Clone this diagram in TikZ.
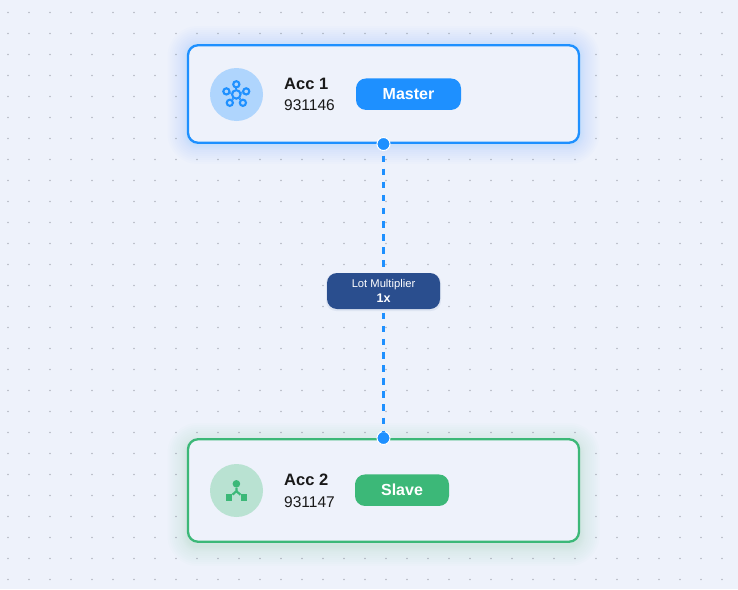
\documentclass[tikz,border=0pt]{standalone}
\usepackage{fontspec}
\setmainfont{Liberation Sans}
\usetikzlibrary{positioning}
\definecolor{pagebg}{HTML}{EEF2FB}
\definecolor{griddot}{HTML}{B4B8C2}
\definecolor{masterblue}{HTML}{1E90FF}
\definecolor{slavegreen}{HTML}{3CB878}
\definecolor{masterdisc}{HTML}{AFD5FD}
\definecolor{slavedisc}{HTML}{B9E2D2}
\definecolor{lotblue}{HTML}{2A4E8E}
\tikzset{
	card/.style={draw=#1, line width=2.3pt, fill=pagebg, rounded corners=10pt, minimum width=391pt, inner sep=0pt},
	disc/.style={circle, fill=#1, minimum size=53pt, inner sep=0pt},
	pill/.style={fill=#1, rounded corners=10pt, text=white, font=\fontsize{16}{16}\selectfont\bfseries, minimum height=31.5pt, inner sep=0pt},
	acctitle/.style={font=\fontsize{16.5}{16}\selectfont\bfseries, inner sep=0pt, anchor=west, text=black!90},
	accnum/.style={font=\fontsize{15.5}{16}\selectfont, inner sep=0pt, anchor=west, text=black!90},
	anchordot/.style={circle, fill=masterblue, draw=white, line width=1pt, minimum size=13pt, inner sep=0pt},
	linkline/.style={masterblue, line width=2.8pt, dash pattern=on 6.5pt off 6.6pt, dash phase=8.6pt},
	lotbox/.style={fill=lotblue, rounded corners=10pt, minimum width=113pt, minimum height=36pt, inner sep=0pt, text=white, align=center},
	hubring/.style={draw=masterblue, line width=2.1pt, fill=masterdisc, circle, inner sep=0pt, minimum size=6.2pt},
	splitend/.style={fill=slavegreen, minimum size=6.6pt, inner sep=0pt},
}
\begin{document}
\begin{tikzpicture}[x=1pt,y=-1pt]
	\useasboundingbox (0,0) rectangle (738,589);
	\fill[pagebg] (0,0) rectangle (738,589);
	\foreach \i in {0,...,34} {
		\foreach \j in {0,...,27} {
			\fill[griddot] (8+21*\i,12.5+21*\j) circle (0.8);
		}
	}
	% soft glow round the cards
	\foreach \g in {20,18,16,14,12,10,8,6,5,4,3,2,1} {
		\fill[masterblue, opacity=0.011, rounded corners=\g pt+10pt] (187.5-\g,45-\g+1) rectangle (579.5+\g,143+\g+1);
		\fill[slavegreen, opacity=0.011, rounded corners=\g pt+10pt] (187.5-\g,439-\g+4) rectangle (579.5+\g,542+\g+4);
	}
	\node[card=masterblue, minimum height=97.5pt] (masterCard) at (383.5,94) {};
	\node[card=slavegreen, minimum height=102.5pt] (slaveCard) at (383.5,490.5) {};
	\node[disc=masterdisc] (masterDisc) at (236.5,94.5) {};
	\node[disc=slavedisc] (slaveDisc) at (236.5,490.5) {};
	% hub icon
	\node[hubring] (hubA) at (236.3,84.3) {};
	\node[hubring] (hubB) at (246.2,91.4) {};
	\node[hubring] (hubC) at (226.4,91.4) {};
	\node[hubring] (hubD) at (242.9,102.8) {};
	\node[hubring] (hubE) at (229.8,102.8) {};
	\node[hubring, minimum size=8.5pt] (hubMid) at (236.3,94.4) {};
	\foreach \n in {hubA,hubB,hubC,hubD,hubE} {
		\draw[masterblue, line width=2.1pt] (hubMid) -- (\n);
	}
	% split icon
	\node[circle, fill=slavegreen, minimum size=7.6pt, inner sep=0pt] (splitTop) at (236.4,483.8) {};
	\node[splitend] (splitL) at (229,497.7) {};
	\node[splitend] (splitR) at (244,497.7) {};
	\coordinate (splitMid) at (236.4,491.2);
	\draw[slavegreen, line width=2.2pt] (splitTop) -- (splitMid) -- (splitL);
	\draw[slavegreen, line width=2.2pt] (splitMid) -- (splitR);
	\node[acctitle] (masterName) at (284,83.5) {Acc 1};
	\node[accnum] (masterNum) at (284,105.5) {931146};
	\node[acctitle] (slaveName) at (284,479.5) {Acc 2};
	\node[accnum] (slaveNum) at (284,502.5) {931147};
	\node[pill=masterblue, minimum width=105pt] (masterTag) at (408.5,94.2) {Master};
	\node[pill=slavegreen, minimum width=94pt] (slaveTag) at (402,490.2) {Slave};
	\node[anchordot] (masterDot) at (383.5,144) {};
	\node[anchordot] (slaveDot) at (383.5,438) {};
	\draw[linkline] (masterDot) -- (slaveDot);
	\fill[lotblue, opacity=0.08, rounded corners=10pt] (326,273) rectangle (441,311);
	\node[lotbox] (lotBox) at (383.5,291) {};
	\node[font=\fontsize{11.2}{11}\selectfont, text=white, inner sep=0pt] (lotName) at (383.5,285) {Lot Multiplier};
	\node[font=\fontsize{12.5}{13}\selectfont\bfseries, text=white, inner sep=0pt] (lotVal) at (383.5,298) {1x};
\end{tikzpicture}
\end{document}
